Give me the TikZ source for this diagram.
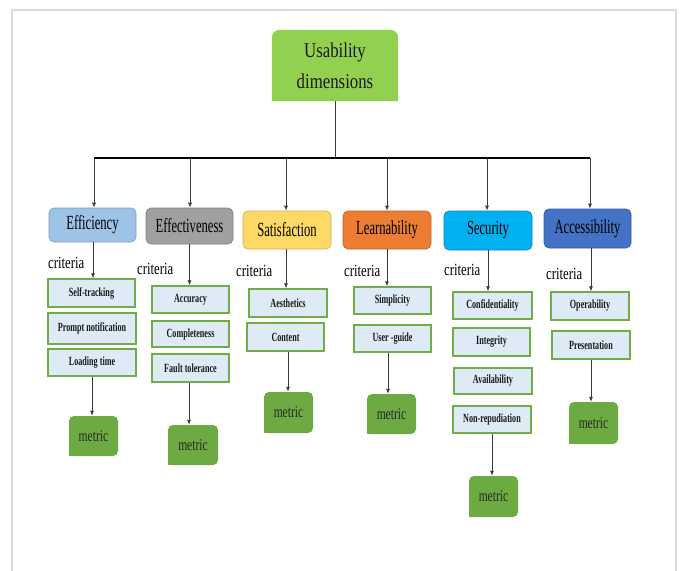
\documentclass[tikz,border=0pt]{standalone}
\usepackage{fontspec}
\setmainfont{Liberation Serif}
\newfontfamily\rootfont{Liberation Serif}[FakeStretch=0.8]
\newfontfamily\dimfont{Liberation Serif}[FakeStretch=0.63]
\newfontfamily\critfont{Liberation Serif}[FakeStretch=0.75]
\newfontfamily\itemfont{Liberation Serif}[FakeStretch=0.65]
\newfontfamily\metfont{Liberation Serif}[FakeStretch=0.7]
\usetikzlibrary{arrows.meta,calc}
\definecolor{rootgreen}{HTML}{92D050}
\definecolor{effblue}{HTML}{9DC3E6}
\definecolor{efvgray}{HTML}{A0A0A0}
\definecolor{satyellow}{HTML}{FFD966}
\definecolor{leaorange}{HTML}{ED7D31}
\definecolor{seccyan}{HTML}{00B0F0}
\definecolor{accblue}{HTML}{4472C4}
\definecolor{itemfill}{HTML}{DEEBF7}
\definecolor{itemborder}{HTML}{70AD47}
\definecolor{metgreen}{HTML}{6DAB42}
\definecolor{framegray}{HTML}{DADADA}
\definecolor{linegray}{HTML}{3A3A3A}
\tikzset{
  box/.style={inner sep=0pt, anchor=center, align=center},
  dimbox/.style={box, rounded corners=5pt, draw=#1!80!black, line width=0.6pt, fill=#1,
     font=\dimfont\fontsize{20}{22}\selectfont, text=black},
  itembox/.style={box, draw=itemborder, line width=1.4pt, fill=itemfill,
     font=\itemfont\bfseries\fontsize{12.5}{14}\selectfont, text=black!90},
  metbox/.style={box, rounded corners=5pt, fill=metgreen,
     font=\metfont\fontsize{16.5}{18}\selectfont, text=black!85},
  critlabel/.style={inner sep=0pt, anchor=base west, font=\critfont\fontsize{17}{20}\selectfont},
  arr/.style={draw=linegray, line width=0.8pt, -{Latex[length=5pt,width=4pt]}},
  conn/.style={draw=linegray, line width=0.8pt},
}
\newcommand{\bx}[7]{% name, style, x0, x1, y0, y1, text
  \node[#2, minimum width={#4-#3}, minimum height={#6-#5}] (#1) at ({(#3+#4)/2},{(#5+#6)/2}) {#7};}
\begin{document}
\begin{tikzpicture}[x=1pt,y=-1pt]
\useasboundingbox (0,0) rectangle (681,571);
\fill[white] (0,0) rectangle (681,571);
% frame
\draw[framegray, line width=1.5pt] (12,571) -- (12,10) -- (676,10) -- (676,571);

% root
\node[box, minimum width=126, minimum height=71] (root) at (335,65.5) {};
\fill[rootgreen] (root.south west) -- ([yshift=-8pt]root.north west)
   arc[start angle=180, end angle=90, radius=8pt] -- ([xshift=-8pt]root.north east)
   arc[start angle=90, end angle=0, radius=8pt] -- (root.south east) -- cycle;
\node[box, text=black!90, font=\rootfont\fontsize{21}{31}\selectfont] (rootlabel) at (root.center) {Usability\\dimensions};

% dimension boxes
\bx{eff}{dimbox=effblue}{49}{136}{208}{242}{Efficiency}
\bx{efv}{dimbox=efvgray}{146}{233}{208}{244}{Effectiveness}
\bx{sat}{dimbox=satyellow}{243}{331}{211}{249}{Satisfaction}
\bx{lea}{dimbox=leaorange}{343}{431}{211}{249}{Learnability}
\bx{sec}{dimbox=seccyan}{444}{532}{211}{250}{Security}
\bx{acc}{dimbox=accblue}{544}{631}{209}{248}{Accessibility}

% bus
\coordinate (bL) at (94,158);
\coordinate (bR) at (590,158);
\draw[black, line width=1.6pt] (bL) -- (bR);
\draw[conn] (root.south) -- (root.south |- bL);
\foreach \n/\x in {eff/94, efv/190, sat/286, lea/387, sec/487, acc/590}{
  \coordinate (d\n) at (\x,158);
  \draw[arr] (d\n) -- (d\n |- \n.north);
}

% criteria labels
\node[critlabel] (ceff) at (48,268) {criteria};
\node[critlabel] (cefv) at (137,274) {criteria};
\node[critlabel] (csat) at (236,276) {criteria};
\node[critlabel] (clea) at (344,276) {criteria};
\node[critlabel] (csec) at (444,275) {criteria};
\node[critlabel] (cacc) at (546,279) {criteria};

% items
\bx{st}{itembox}{48}{135}{279}{307}{Self-tracking}
\bx{pn}{itembox}{48}{136}{313}{344}{Prompt notification}
\bx{lt}{itembox}{48}{136}{349}{376}{Loading time}
\bx{ac}{itembox}{152}{229}{286}{313}{Accuracy}
\bx{co}{itembox}{152}{229}{321}{347}{Completeness}
\bx{ft}{itembox}{152}{229}{354}{382}{Fault tolerance}
\bx{ae}{itembox}{249}{327}{289}{317}{Aesthetics}
\bx{ct}{itembox}{247}{324}{323}{351}{Content}
\bx{si}{itembox}{354}{431}{287}{314}{Simplicity}
\bx{ug}{itembox}{354}{431}{325}{352}{User -guide}
\bx{cf}{itembox}{453}{532}{292}{319}{Confidentiality}
\bx{in}{itembox}{453}{530}{328}{356}{Integrity}
\bx{av}{itembox}{454}{532}{368}{394}{Availability}
\bx{nr}{itembox}{453}{531}{406}{433}{Non-repudiation}
\bx{op}{itembox}{551}{629}{292}{320}{Operability}
\bx{pr}{itembox}{552}{630}{331}{359}{Presentation}

% metrics
\bx{m1}{metbox}{69}{118}{416}{456}{metric}
\bx{m2}{metbox}{168}{218}{425}{465}{metric}
\bx{m3}{metbox}{264}{313}{392}{433}{metric}
\bx{m4}{metbox}{367}{416}{394}{434}{metric}
\bx{m5}{metbox}{469}{518}{476}{517}{metric}
\bx{m6}{metbox}{569}{618}{402}{444}{metric}
\foreach \m in {m1,m2,m3,m4,m5,m6}{
  \fill[metgreen] (\m.south west) rectangle ++(6,-6);
}

% arrows dimension -> first item
\draw[arr] ([xshift=0.5pt]eff.south) -- ([xshift=0.5pt]eff.south |- st.north);
\draw[arr] (efv.south) -- (efv.south |- ac.north);
\draw[arr] ([xshift=-1pt]sat.south) -- ([xshift=-1pt]sat.south |- ae.north);
\draw[arr] (lea.south) -- (lea.south |- si.north);
\draw[arr] (sec.south) -- (sec.south |- cf.north);
\draw[arr] ([xshift=3.5pt]acc.south) -- ([xshift=3.5pt]acc.south |- op.north);

% arrows last item -> metric
\draw[arr] (lt.south) -- (lt.south |- m1.north);
\draw[arr] ([xshift=-1.5pt]ft.south) -- ([xshift=-1.5pt]ft.south |- m2.north);
\draw[arr] ([xshift=2.5pt]ct.south) -- ([xshift=2.5pt]ct.south |- m3.north);
\draw[arr] ([xshift=-4.5pt]ug.south) -- ([xshift=-4.5pt]ug.south |- m4.north);
\draw[arr] (nr.south) -- (nr.south |- m5.north);
\draw[arr] (pr.south) -- (pr.south |- m6.north);
\end{tikzpicture}
\end{document}
